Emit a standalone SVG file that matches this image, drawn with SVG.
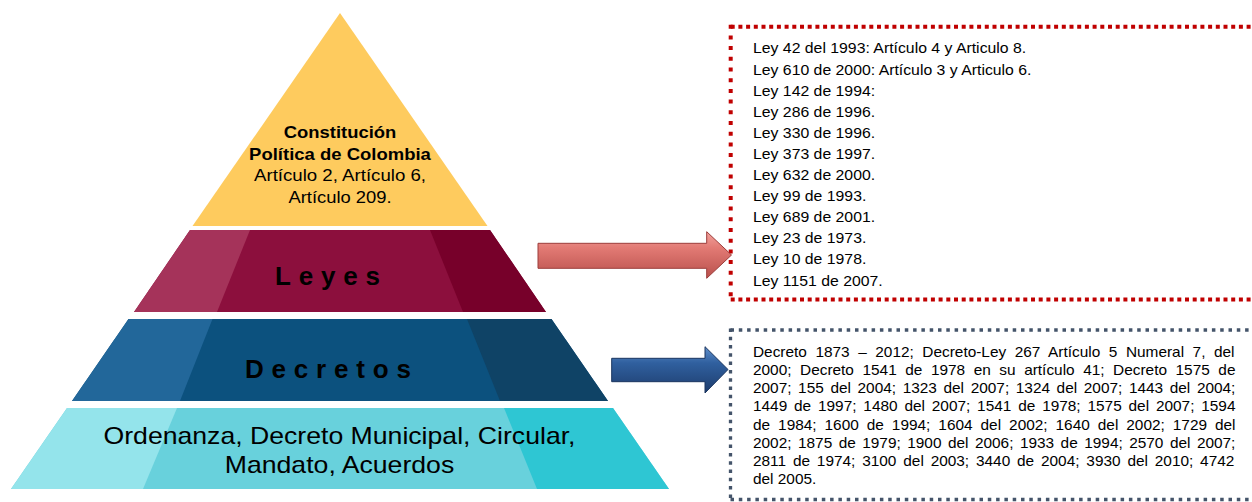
<svg xmlns="http://www.w3.org/2000/svg" width="1252" height="502" viewBox="0 0 1252 502">
<defs>
<linearGradient id="gRed" x1="0" y1="0" x2="0" y2="1">
<stop offset="0" stop-color="#f2a29c"/>
<stop offset="0.35" stop-color="#e27a74"/>
<stop offset="1" stop-color="#b9504c"/>
</linearGradient>
<linearGradient id="gBlue" x1="0" y1="0" x2="0" y2="1">
<stop offset="0" stop-color="#5f8fcb"/>
<stop offset="0.35" stop-color="#30609f"/>
<stop offset="1" stop-color="#1d3c6c"/>
</linearGradient>
<style>
.t{font-family:"Liberation Sans",Arial,sans-serif;fill:#000}
.lbl{font-weight:bold;font-size:26px;letter-spacing:7.8px}
.list{font-size:14px}
.red{stroke:#c00000;stroke-width:4;fill:none}
.blu{stroke:#44546a;stroke-width:3.3;fill:none;stroke-dasharray:3.5 4.8}
</style>
</defs>
<rect width="1252" height="502" fill="#ffffff"/>

<g id="node-constitucion">
<polygon points="340,13 487.5,226 192.5,226" fill="#fecb5e"/>
<text class="t" text-anchor="middle" font-size="17" font-weight="bold" x="340" y="137.5" textLength="112.5" lengthAdjust="spacingAndGlyphs">Constitución</text>
<text class="t" text-anchor="middle" font-size="17" font-weight="bold" x="340" y="159.5" textLength="181.8" lengthAdjust="spacingAndGlyphs">Política de Colombia</text>
<text class="t" text-anchor="middle" font-size="17" x="340" y="181" textLength="172" lengthAdjust="spacingAndGlyphs">Artículo 2, Artículo 6,</text>
<text class="t" text-anchor="middle" font-size="17" x="340" y="202.5" textLength="103.2" lengthAdjust="spacingAndGlyphs">Artículo 209.</text>
</g>

<g id="node-leyes">
<polygon points="190,230 490,230 546,312 134,312" fill="#8c0f3d"/>
<polygon points="190,230 250,230 217,312 134,312" fill="#a5335a"/>
<polygon points="430,230 490,230 546,312 463,312" fill="#77002a"/>
<text class="t lbl" x="275" y="285">Leyes</text>
</g>

<g id="node-decretos">
<polygon points="128.5,319 551.5,319 608,401 72,401" fill="#0c517e"/>
<polygon points="128.5,319 212.5,319 180,401 72,401" fill="#22679a"/>
<polygon points="467,319 551.5,319 608,401 500,401" fill="#0f4366"/>
<text class="t lbl" x="245" y="378.3">Decretos</text>
</g>

<g id="node-ordenanza">
<polygon points="67,408 613,408 669,489 11,489" fill="#68d1dc"/>
<polygon points="67,408 177,408 143,489 11,489" fill="#94e4eb"/>
<polygon points="504,408 613,408 669,489 537,489" fill="#2ec6d3"/>
<text class="t" text-anchor="middle" font-size="24" x="339.5" y="444" textLength="472" lengthAdjust="spacingAndGlyphs">Ordenanza, Decreto Municipal, Circular,</text>
<text class="t" text-anchor="middle" font-size="24" x="339.5" y="473.3" textLength="229.5" lengthAdjust="spacingAndGlyphs">Mandato, Acuerdos</text>
</g>

<g id="node-leyes-list">
<line class="red" x1="730.7" y1="26.7" x2="1256" y2="26.7" stroke-dasharray="4 3.7"/>
<line class="red" x1="730.7" y1="299.5" x2="1256" y2="299.5" stroke-dasharray="4 3.7"/>
<line class="red" x1="730.7" y1="24.7" x2="730.7" y2="301.5" stroke-dasharray="4 6.7"/>
<g class="t list" transform="matrix(1.13 0 0 1 -97.9 0)">
<text x="753" y="53.5">Ley 42 del 1993: Artículo 4 y Articulo 8.</text>
<text x="753" y="74.6">Ley 610 de 2000: Artículo 3 y Articulo 6.</text>
<text x="753" y="95.7">Ley 142 de 1994:</text>
<text x="753" y="116.8">Ley 286 de 1996.</text>
<text x="753" y="137.9">Ley 330 de 1996.</text>
<text x="753" y="159">Ley 373 de 1997.</text>
<text x="753" y="180.1">Ley 632 de 2000.</text>
<text x="753" y="201.2">Ley 99 de 1993.</text>
<text x="753" y="222.3">Ley 689 de 2001.</text>
<text x="753" y="243.4">Ley 23 de 1973.</text>
<text x="753" y="264.5">Ley 10 de 1978.</text>
<text x="753" y="285.6">Ley 1151 de 2007.</text>
</g>
</g>

<g id="node-decretos-list">
<line class="blu" x1="730.5" y1="330" x2="1256" y2="330"/>
<line class="blu" x1="730.5" y1="499.5" x2="1256" y2="499.5"/>
<line class="blu" x1="730.5" y1="328.4" x2="730.5" y2="502"/>
<g class="t list" transform="matrix(1.1 0 0 1 -75.3 0)">
<text x="753" y="356.7" word-spacing="3.89">Decreto 1873 – 2012; Decreto-Ley 267 Artículo 5 Numeral 7, del</text>
<text x="753" y="374.95" word-spacing="3.89">2000; Decreto 1541 de 1978 en su artículo 41; Decreto 1575 de</text>
<text x="753" y="393.2" word-spacing="2.13">2007; 155 del 2004; 1323 del 2007; 1324 del 2007; 1443 del 2004;</text>
<text x="753" y="411.45" word-spacing="2.33">1449 de 1997; 1480 del 2007; 1541 de 1978; 1575 del 2007; 1594</text>
<text x="753" y="429.7" word-spacing="3.37">de 1984; 1600 de 1994; 1604 del 2002; 1640 del 2002; 1729 del</text>
<text x="753" y="447.95" word-spacing="2.0">2002; 1875 de 1979; 1900 del 2006; 1933 de 1994; 2570 del 2007;</text>
<text x="753" y="466.2" word-spacing="2.33">2811 de 1974; 3100 del 2003; 3440 de 2004; 3930 del 2010; 4742</text>
<text x="753" y="484.45">del 2005.</text>
</g>
</g>

<g id="connectors">
<path d="M538,243.3 H706.7 V231.7 L731.5,255 L706.7,278.3 V268.3 H538 Z" fill="url(#gRed)" stroke="#9c3c3a" stroke-width="1"/>
<path d="M611.7,358.3 H705 V346.7 L728,369.5 L705,393 V381.7 H611.7 Z" fill="url(#gBlue)" stroke="#1a355f" stroke-width="1"/>
</g>
</svg>
